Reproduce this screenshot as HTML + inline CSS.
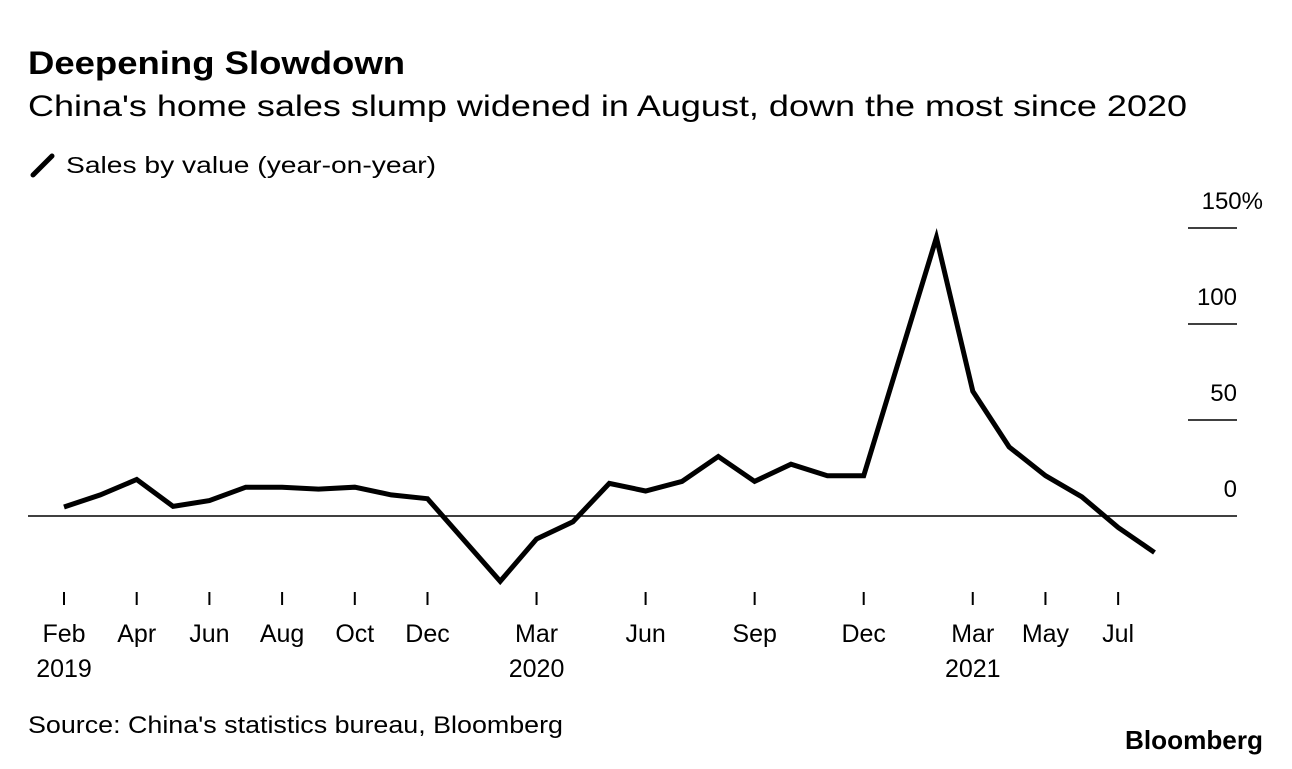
<!DOCTYPE html>
<html><head><meta charset="utf-8"><style>
body{margin:0;background:#fff;width:1292px;height:764px;overflow:hidden;font-family:"Liberation Sans",Arial,sans-serif;}
svg text{font-family:"Liberation Sans",Arial,sans-serif;}
</style></head><body>
<svg width="1292" height="764">
<text x="28" y="74" font-size="32" font-weight="bold" fill="#000" textLength="377" lengthAdjust="spacingAndGlyphs">Deepening Slowdown</text>
<text x="28" y="116" font-size="30" fill="#000" textLength="1159" lengthAdjust="spacingAndGlyphs">China's home sales slump widened in August, down the most since 2020</text>
<line x1="33" y1="175" x2="52" y2="156" stroke="#000" stroke-width="5" stroke-linecap="round"/>
<text x="66" y="173" font-size="23" fill="#000" textLength="370" lengthAdjust="spacingAndGlyphs">Sales by value (year-on-year)</text>
<g id="yaxis"></g>
<g id="xaxis"></g>
<path id="line" fill="none" stroke="#000" stroke-width="5" stroke-linejoin="miter"/>
<text x="28" y="733" font-size="24" fill="#000" textLength="535" lengthAdjust="spacingAndGlyphs">Source: China's statistics bureau, Bloomberg</text>
<text x="1263" y="749" font-size="26" font-weight="bold" text-anchor="end" fill="#000" textLength="138" lengthAdjust="spacingAndGlyphs">Bloomberg</text>
</svg>
<script>
// month offsets from Feb 2019
const monthIdx = [0,1,2,3,4,5,6,7,8,9,10,12,13,14,15,16,17,18,19,20,21,22,24,25,26,27,28,29,30];
const salesValues = [4.7,11,19,5,8,15,15,14,15,11,9,-34,-12,-3,17,13,18,31,18,27,21,21,145,65,36,21,10,-6,-19];
const yTicks = [0,50,100,150];
const yTickLabels = ["0","50","100","150%"];
const xTickIdx = [0,2,4,6,8,10,13,16,19,22,25,27,29];
const xTickLabels = ["Feb","Apr","Jun","Aug","Oct","Dec","Mar","Jun","Sep","Dec","Mar","May","Jul"];
const yearIdx = [0,13,25];
const yearLabels = ["2019","2020","2021"];

const NS="http://www.w3.org/2000/svg";
const x = m => 64 + m*36.35;
const y = v => 516 - v*1.92;
function mk(tag, attrs, parent, txt){const e=document.createElementNS(NS,tag);for(const k in attrs)e.setAttribute(k,attrs[k]);if(txt!=null)e.textContent=txt;parent.appendChild(e);return e;}
const ya=document.getElementById('yaxis'), xa=document.getElementById('xaxis');
yTicks.forEach((t,i)=>{
  if(t===0){const l=mk('line',{x1:28,x2:1237,y1:y(0),y2:y(0),stroke:'#000','stroke-width':1.5},ya);
    
    }
  else{const l=mk('line',{x1:1188,x2:1237,y1:y(t),y2:y(t),stroke:'#000','stroke-width':1.5},ya);
    
    }
  const tx=mk('text',{x:t===150?1263:1237,y:y(t)-19,'font-size':24,'text-anchor':'end',fill:'#000'},ya,yTickLabels[i]);
  
  
});
xTickIdx.forEach((m,i)=>{
  const l=mk('line',{x1:x(m),x2:x(m),y1:592,y2:605,stroke:'#000','stroke-width':2},xa);
  
  
  const t=mk('text',{x:x(m),y:642,'font-size':25,'text-anchor':'middle',fill:'#000'},xa,xTickLabels[i]);
  
  
});
yearIdx.forEach((m,i)=>{
  const t=mk('text',{x:x(m),y:677,'font-size':25,'text-anchor':'middle',fill:'#000'},xa,yearLabels[i]);
  
  
});
document.getElementById('line').setAttribute('d',monthIdx.map((m,i)=>(i?'L':'M')+x(m).toFixed(1)+' '+y(salesValues[i]).toFixed(1)).join(' '));
</script>
</body></html>
